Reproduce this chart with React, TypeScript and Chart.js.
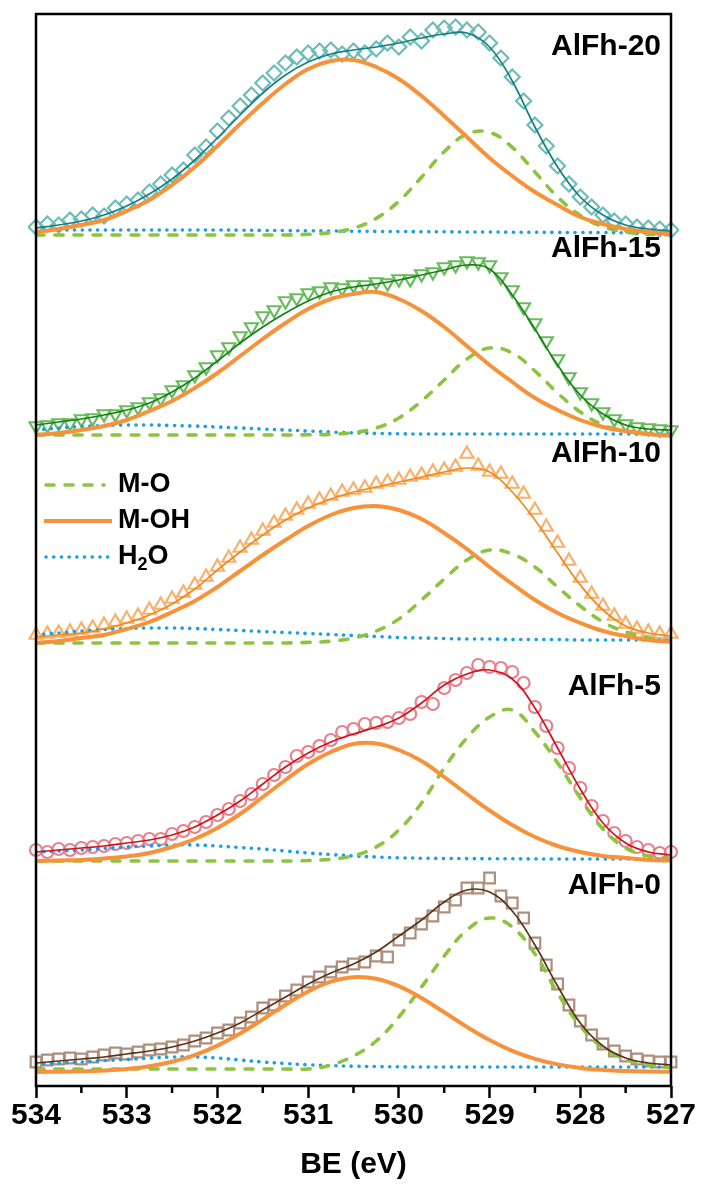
import React, { useEffect, useRef } from 'react';
import { Chart, registerables } from 'chart.js';
Chart.register(...registerables);

// Binding energy grid for the smooth curves (eV)
const curveBE = [534, 533.75, 533.5, 533.25, 533, 532.75, 532.5, 532.25, 532, 531.75, 531.5, 531.25, 531, 530.75, 530.5, 530.25, 530, 529.75, 529.5, 529.25, 529, 528.75, 528.5, 528.25, 528, 527.75, 527.5, 527.25, 527];
// Binding energy of the measured points (eV)
const dataBE = [534, 533.875, 533.75, 533.625, 533.5, 533.375, 533.25, 533.125, 533, 532.875, 532.75, 532.625, 532.5, 532.375, 532.25, 532.125, 532, 531.875, 531.75, 531.625, 531.5, 531.375, 531.25, 531.125, 531, 530.875, 530.75, 530.625, 530.5, 530.375, 530.25, 530.125, 530, 529.875, 529.75, 529.625, 529.5, 529.375, 529.25, 529.125, 529, 528.875, 528.75, 528.625, 528.5, 528.375, 528.25, 528.125, 528, 527.875, 527.75, 527.625, 527.5, 527.375, 527.25, 527.125, 527];

const sampleNames = ['AlFh-0', 'AlFh-5', 'AlFh-10', 'AlFh-15', 'AlFh-20'];
// vertical offsets of the stacked spectra (a.u.)
const stackOffsets = [18, 226, 446, 651, 853];
const xTicksMajor = [534, 533, 532, 531, 530, 529, 528, 527];
const xTicksMinor = [533.5, 532.5, 531.5, 530.5, 529.5, 528.5, 527.5];

// ---- AlFh-0 ----
const data0 = [6, 8, 9, 10, 9, 11, 13, 15, 14, 16, 18, 19, 21, 23, 27, 30, 35, 38, 45, 51, 60, 63, 72, 78, 86, 91, 96, 101, 104, 106, 112, 111, 128, 135, 144, 152, 161, 168, 180, 180, 190, 172, 165, 150, 125, 103, 84, 63, 47, 33, 24, 17, 12, 9, 7, 6, 6];
const fit0 = [5, 7, 9, 11, 14, 17, 21, 27, 35, 45, 58, 71, 84, 95, 104, 116, 132, 148, 166, 178, 176, 157, 123, 82, 45, 22, 10, 5, 3];
const mo0 = [-1, -1, -1, -1, -1, -1, -1, -1, -1, -1, -1, -1, -1, 3, 12, 27, 51, 81, 112, 138, 150, 141, 114, 75, 42, 20, 9, 3, 0];
const moh0 = [-3.9, -3.7, -3.3, -2.5, -1, 1.7, 6.2, 12.9, 22.4, 34.5, 48.6, 63.3, 76.5, 86.3, 90.8, 89.2, 81.8, 69.9, 55.7, 41.1, 27.9, 17.1, 9.1, 3.6, 0.1, -1.9, -3, -3.6, -3.8];
const h2o0 = [4, 5, 6, 7.5, 8.5, 10, 11, 11, 10, 8, 6, 4.5, 3.2, 2.4, 1.8, 1.4, 1.2, 1, 1, 1, 1, 1, 1, 1, 1, 1, 1, 1, 1];

// ---- AlFh-5 ----
const data5 = [10, 8, 11, 10, 12, 13, 14, 16, 17, 19, 21, 21, 26, 29, 33, 38, 45, 51, 59, 66, 76, 85, 93, 104, 108, 114, 120, 128, 131, 136, 137, 138, 142, 146, 158, 156, 172, 180, 187, 195, 193, 192, 188, 177, 153, 134, 112, 92, 72, 54, 39, 27, 19, 13, 10, 7, 8];
const fit5 = [8, 10, 12, 14, 17, 20, 25, 33, 45, 59, 76, 93, 107, 118, 126, 133, 142, 157, 175, 186, 190, 181, 152, 112, 71, 37, 17, 8, 5];
const mo5 = [-1, -1, -1, -1, -1, -1, -1, -1, -1, -1, -1, -1, -0.5, 0.7, 4.3, 13, 30, 57, 92, 122, 143, 150, 128, 97, 62, 31, 12, 4, 1];
const moh5 = [-1, -0.5, 0, 1.5, 3.5, 7, 13, 21, 32, 46, 63, 80, 96, 108, 116, 116.5, 110, 99, 83, 66, 49.5, 35, 23, 14, 8, 4, 2, 0, -0.5];
const h2o5 = [8, 9, 10, 11.5, 13, 14, 15, 15, 14, 12.5, 11, 9, 7, 5.5, 4, 3, 2.2, 1.8, 1.5, 1.4, 1.3, 1.2, 1.1, 1, 1, 1, 1, 1, 1];

// ---- AlFh-10 ----
const data10 = [5, 6, 7, 8, 10, 12, 15, 18, 21, 24, 30, 35, 41, 47, 55, 63, 73, 82, 92, 100, 109, 117, 124, 130, 136, 140, 144, 148, 150, 152, 156, 158, 160, 163, 165, 168, 170, 173, 186, 174, 168, 166, 156, 146, 130, 113, 97, 79, 62, 46, 34, 24, 16, 11, 8, 6, 6];
const fit10 = [3, 5, 7, 11, 17, 25, 36, 51, 70, 88, 105, 120, 132, 141, 148, 153, 158, 163, 168, 172, 168, 148, 120, 87, 55, 30, 14, 7, 4];
const mo10 = [-3, -3, -3, -3, -3, -3, -3, -3, -3, -3, -3, -3, -2.4, -1.2, 2, 9, 21, 40, 61, 80, 90, 86, 73, 53, 34, 18, 8, 2, -1];
const moh10 = [-3, -1, 2, 5, 11, 18, 28, 39, 53, 69, 85, 100, 114, 125, 132, 134, 130, 121, 107, 91, 73, 56, 40, 27, 17, 9, 4, 0, -2];
const h2o10 = [5, 7, 9, 10.5, 11.5, 12, 12, 11.5, 10.5, 9.5, 8.5, 7.5, 6.5, 5.5, 4.5, 3.5, 2.5, 2, 1.5, 1, 1, 0.5, 0.5, 0.5, 0, 0, 0, 0, 0];

// ---- AlFh-15 ----
const data15 = [9, 10, 12, 12, 16, 17, 21, 21, 25, 28, 33, 37, 45, 50, 60, 68, 80, 88, 99, 108, 119, 125, 134, 137, 142, 144, 148, 147, 150, 150, 153, 152, 156, 156, 161, 163, 168, 170, 174, 173, 170, 158, 145, 128, 112, 94, 76, 58, 43, 32, 23, 16, 11, 8, 7, 6, 5];
const fit15 = [10, 13, 16, 20, 25, 32, 43, 57, 74, 92, 108, 122, 134, 143, 148, 151, 155, 160, 165, 170, 166, 140, 106, 70, 40, 21, 10, 6, 5];
const mo15 = [0, 0, 0, 0, 0, 0, 0, 0, 0, 0, 0, 0, 0.2, 0.7, 2.5, 7, 17, 34, 55, 76, 87, 82, 64, 42, 23, 10, 4, 1, 0];
const moh15 = [0, 2, 5, 9, 15, 24, 34, 47, 62, 79, 96, 112, 126, 136, 141, 143, 136, 124, 108, 89, 70, 53, 37, 25, 15, 8, 4, 1, -1];
const h2o15 = [5, 7, 8.5, 9.5, 10, 10, 9.5, 9, 8, 7, 6, 5, 4, 3, 2.2, 1.6, 1.2, 1, 1, 1, 1, 1, 1, 1, 1, 1, 1, 1, 1];

// ---- AlFh-20 ----
const data20 = [6, 9, 8, 13, 14, 18, 17, 25, 29, 33, 41, 49, 58, 63, 78, 86, 102, 115, 127, 138, 150, 160, 170, 176, 180, 182, 183, 179, 182, 180, 184, 190, 186, 196, 192, 203, 205, 206, 203, 201, 190, 175, 156, 132, 108, 87, 67, 49, 36, 26, 18, 12, 9, 6, 5, 4, 3];
const fit20 = [5, 8, 12, 18, 27, 39, 54, 73, 95, 118, 140, 158, 171, 179, 183, 186, 190, 195, 199, 200, 186, 152, 106, 66, 36, 18, 8, 4, 2];
const mo20 = [-2, -2, -2, -2, -2, -2, -2, -2, -2, -2, -2, -2, -1.3, 0.4, 4.8, 14.6, 31.8, 55.8, 81.3, 98.8, 100.6, 85.7, 61, 36, 17.4, 6.3, 1, -1.1, -1.8];
const moh20 = [1, 4, 8, 13, 22, 33, 48, 66, 87, 109, 130, 149, 164, 172, 173, 166, 154, 137, 117, 96, 75, 57, 41, 28, 16, 9, 4, 1, -1];
const h2o20 = [3, 3, 3, 3, 3, 3, 3, 3, 3, 2.8, 2.6, 2.4, 2.2, 2, 1.8, 1.6, 1.5, 1.3, 1.2, 1, 1, 0.8, 0.7, 0.6, 0.5, 0.4, 0.3, 0.2, 0];

const panels = [
  { data: data0, fit: fit0, mo: mo0, moh: moh0, h2o: h2o0 },
  { data: data5, fit: fit5, mo: mo5, moh: moh5, h2o: h2o5 },
  { data: data10, fit: fit10, mo: mo10, moh: moh10, h2o: h2o10 },
  { data: data15, fit: fit15, mo: mo15, moh: moh15, h2o: h2o15 },
  { data: data20, fit: fit20, mo: mo20, moh: moh20, h2o: h2o20 },
];

// styles (per sample)
const markerStyles = [
  { style: 'rect', rotation: 0, radius: 7.5, color: '#ae8e7d', line: '#5a3517' },
  { style: 'circle', rotation: 0, radius: 6, color: '#e8808c', line: '#d0141e' },
  { style: 'triangle', rotation: 0, radius: 7.5, color: '#f8b06a', line: '#f2891c' },
  { style: 'triangle', rotation: 180, radius: 7.5, color: '#68bc5c', line: '#16821a' },
  { style: 'rectRot', rotation: 0, radius: 7.5, color: '#6cbcb9', line: '#157f82' },
];
const labelLift = [182, 173, 186, 186, 186];

const MO_COLOR = '#8cc43f';
const MOH_COLOR = '#f7923a';
const H2O_COLOR = '#1b9ee6';
const FONT = '"Liberation Sans", Arial, Helvetica, sans-serif';

const toPts = (xs: number[], ys: number[], off: number) => xs.map((x, i) => ({ x, y: off + ys[i] }));

function buildDatasets() {
  const ds: any[] = [];
  panels.forEach((p, i) => {
    const off = stackOffsets[i];
    const m = markerStyles[i];
    ds.push({
      label: sampleNames[i] + ' data', data: toPts(dataBE, p.data, off), showLine: false,
      pointStyle: m.style, pointRotation: m.rotation, pointRadius: m.radius,
      pointBorderWidth: 2.2, pointBorderColor: m.color, pointBackgroundColor: 'rgba(0,0,0,0)',
      order: 6, clip: 8,
    });
    ds.push({
      label: 'H2O', data: toPts(curveBE, p.h2o, off), showLine: true, pointRadius: 0,
      borderColor: H2O_COLOR, borderWidth: 3.6, borderDash: [0.1, 7.6], borderCapStyle: 'round',
      tension: 0.4, order: 5,
    });
    ds.push({
      label: 'M-O', data: toPts(curveBE, p.mo, off), showLine: true, pointRadius: 0,
      borderColor: MO_COLOR, borderWidth: 3.6, borderDash: [8, 11], borderCapStyle: 'round',
      tension: 0.4, order: 4,
    });
    ds.push({
      label: 'M-OH', data: toPts(curveBE, p.moh, off), showLine: true, pointRadius: 0,
      borderColor: MOH_COLOR, borderWidth: 4, tension: 0.4, order: 3,
    });
    ds.push({
      label: sampleNames[i] + ' fit', data: toPts(curveBE, p.fit, off), showLine: true, pointRadius: 0,
      borderColor: m.line, borderWidth: 1.7, tension: 0.4, order: 2,
    });
  });
  return ds;
}

const decorPlugin = {
  id: 'decor',
  afterDraw(chart: any) {
    const { ctx, chartArea: a, scales } = chart;
    const x = scales.x;
    const y = scales.y;
    ctx.save();
    // frame
    ctx.strokeStyle = '#000';
    ctx.lineWidth = 2.5;
    ctx.strokeRect(a.left, a.top, a.right - a.left, a.bottom - a.top);
    // minor ticks
    xTicksMinor.forEach((v) => {
      const px = x.getPixelForValue(v);
      ctx.beginPath();
      ctx.moveTo(px, a.bottom);
      ctx.lineTo(px, a.bottom + 7);
      ctx.stroke();
    });
    // sample labels
    ctx.fillStyle = '#000';
    ctx.font = 'bold 30px ' + FONT;
    ctx.textAlign = 'right';
    ctx.textBaseline = 'middle';
    sampleNames.forEach((n, i) => {
      ctx.fillText(n, a.right - 10, y.getPixelForValue(stackOffsets[i] + labelLift[i]));
    });
    // legend (inside AlFh-10 panel)
    const base = stackOffsets[2];
    const lx0 = a.left + 8;
    const lx1 = a.left + 68;
    const tx = a.left + 82;
    const rows = [155, 119, 83].map((h) => y.getPixelForValue(base + h));
    ctx.lineWidth = 3.6;
    ctx.strokeStyle = MO_COLOR;
    ctx.setLineDash([8, 11]);
    ctx.lineCap = 'round';
    ctx.beginPath(); ctx.moveTo(lx0 + 2, rows[0]); ctx.lineTo(lx1, rows[0]); ctx.stroke();
    ctx.setLineDash([]);
    ctx.lineCap = 'butt';
    ctx.lineWidth = 4;
    ctx.strokeStyle = MOH_COLOR;
    ctx.beginPath(); ctx.moveTo(lx0, rows[1]); ctx.lineTo(lx1 + 8, rows[1]); ctx.stroke();
    ctx.lineWidth = 3.6;
    ctx.strokeStyle = H2O_COLOR;
    ctx.setLineDash([0.1, 7.6]);
    ctx.lineCap = 'round';
    ctx.beginPath(); ctx.moveTo(lx0 + 2, rows[2]); ctx.lineTo(lx1 + 4, rows[2]); ctx.stroke();
    ctx.setLineDash([]);
    ctx.textAlign = 'left';
    ctx.font = 'bold 27px ' + FONT;
    ctx.fillText('M-O', tx, rows[0]);
    ctx.fillText('M-OH', tx, rows[1]);
    ctx.fillText('H', tx, rows[2]);
    const hW = ctx.measureText('H').width;
    ctx.font = 'bold 18px ' + FONT;
    ctx.fillText('2', tx + hW, rows[2] + 8);
    const sW = ctx.measureText('2').width;
    ctx.font = 'bold 27px ' + FONT;
    ctx.fillText('O', tx + hW + sW, rows[2]);
    ctx.restore();
  },
};

export default function App() {
  const ref = useRef<HTMLCanvasElement | null>(null);
  useEffect(() => {
    document.body.style.margin = '0';
    const canvas = ref.current;
    if (!canvas) return;
    const chart = new Chart(canvas, {
      type: 'scatter',
      data: { datasets: buildDatasets() },
      options: {
        responsive: false,
        animation: false,
        devicePixelRatio: 1,
        layout: { padding: { top: 14, left: 36, right: 33, bottom: 0 } },
        plugins: { legend: { display: false }, tooltip: { enabled: false } },
        scales: {
          x: {
            type: 'linear', reverse: true, min: 527, max: 534,
            afterBuildTicks: (s: any) => { s.ticks = xTicksMajor.map((v) => ({ value: v })); },
            afterFit: (s: any) => { s.height = 103; },
            ticks: { color: '#000', font: { family: FONT, size: 30, weight: 'bold' }, padding: 0, maxRotation: 0, autoSkip: false },
            grid: { display: true, drawOnChartArea: false, drawTicks: true, tickLength: 12, tickWidth: 2.5, tickColor: '#000' },
            border: { display: false },
            title: { display: true, text: 'BE (eV)', color: '#000', font: { family: FONT, size: 30, weight: 'bold' }, padding: { top: 0, bottom: 6 } },
          },
          y: { type: 'linear', display: false, min: 0, max: 1072 },
        },
      },
      plugins: [decorPlugin],
    });
    return () => chart.destroy();
  }, []);
  return (
    <div style={{ width: 704, height: 1189, background: '#fff' }}>
      <canvas ref={ref} width={704} height={1189} style={{ display: 'block', width: 704, height: 1189 }} />
    </div>
  );
}
